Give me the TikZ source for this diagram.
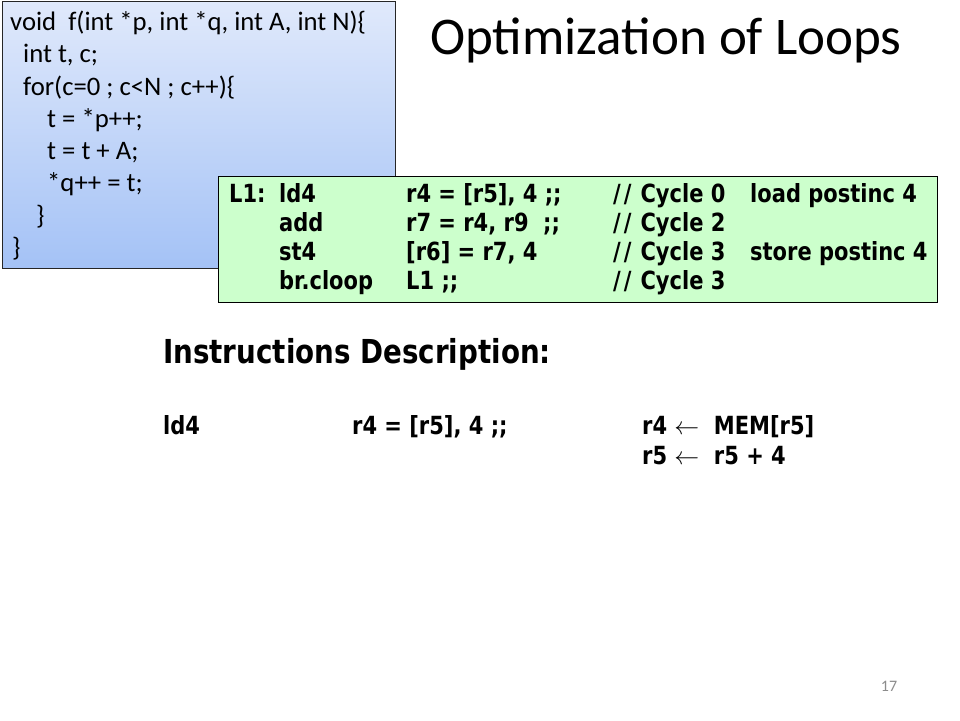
\documentclass[tikz,border=0pt]{standalone}
\usepackage{fontspec}
\setmainfont{Carlito}
\newfontfamily\tahoma[FakeStretch=0.84]{DejaVu Sans}
\definecolor{bluetop}{RGB}{224,233,251}
\definecolor{bluebot}{RGB}{164,194,246}
\definecolor{greenfill}{RGB}{204,255,204}
\definecolor{pagegray}{RGB}{140,140,140}
\newcommand{\slsl}{/\kern3pt/\hspace{9pt}}
\tikzset{
  codetxt/.style={anchor=base west, inner sep=0pt, font=\fontsize{26.7}{32}\selectfont},
  asmtxt/.style={anchor=base west, inner sep=0pt, font=\tahoma\bfseries\fontsize{25}{29}\selectfont},
  desctxt/.style={anchor=base west, inner sep=0pt, font=\tahoma\bfseries\fontsize{25}{29}\selectfont},
  headtxt/.style={anchor=base west, inner sep=0pt, font=\tahoma\bfseries\fontsize{33}{39}\selectfont},
}
\begin{document}
\begin{tikzpicture}[x=1pt,y=-1pt]
\useasboundingbox (0,0) rectangle (960,720);
\fill[white] (0,0) rectangle (960,720);
% code box
\node[draw=black!85, line width=0.9pt, top color=bluetop, bottom color=bluebot,
      minimum width=393pt, minimum height=267pt, anchor=north west, inner sep=0pt] (codebox) at (2,1) {};
\node[codetxt] (c1) at (10,30) {void\ \ f(int *p, int *q, int A, int N)\{};
\node[codetxt] (c2) at (23,62) {int t, c;};
\node[codetxt] (c3) at (23,95) {for(c=0 ; c<N ; c++)\{};
\node[codetxt] (c4) at (47,127) {t = *p++;};
\node[codetxt] (c5) at (47,159) {t = t + A;};
\node[codetxt] (c6) at (47,191) {*q++ = t;};
\node[codetxt] (c7) at (36,224) {\}};
\node[codetxt] (c8) at (12,256) {\}};
% title
\node[anchor=base west, inner sep=0pt, font=\fontsize{53}{62}\selectfont] (title) at (430,54) {Optimization of Loops};
% assembly box
\node[draw=black, line width=1.2pt, fill=greenfill, minimum width=719pt, minimum height=126pt,
      anchor=north west, inner sep=0pt] (asmbox) at (218,176) {};
\node[asmtxt] (lab) at (229,202) {L1:};
\node[asmtxt] (m1) at (279,202) {ld4};
\node[asmtxt] (m2) at (279,231) {add};
\node[asmtxt] (m3) at (279,260) {st4};
\node[asmtxt] (m4) at (279,289) {br.cloop};
\node[asmtxt] (o1) at (406,202) {r4 = [r5], 4 ;;};
\node[asmtxt] (o2) at (406,231) {r7 = r4, r9\ \ ;;};
\node[asmtxt] (o3) at (406,260) {[r6] = r7, 4};
\node[asmtxt] (o4) at (406,289) {L1 ;;};
\node[asmtxt] (k1) at (613,202) {\slsl Cycle 0};
\node[asmtxt] (k2) at (613,231) {\slsl Cycle 2};
\node[asmtxt] (k3) at (613,260) {\slsl Cycle 3};
\node[asmtxt] (k4) at (613,289) {\slsl Cycle 3};
\node[asmtxt] (n1) at (750,202) {load postinc 4};
\node[asmtxt] (n3) at (750,260) {store postinc 4};
% description
\node[headtxt] (head) at (163,363) {Instructions Description:};
\node[desctxt] (d1) at (163,434) {ld4};
\node[desctxt] (d2) at (352,434) {r4 = [r5], 4 ;;};
\node[desctxt] (d3) at (642,434) {r4 $\leftarrow$\ \ MEM[r5]};
\node[desctxt] (d4) at (642,464) {r5 $\leftarrow$\ \ r5 + 4};
% page number
\node[inner sep=0pt, text=pagegray, font=\fontsize{16}{19}\selectfont] (pg) at (889,686) {17};
\end{tikzpicture}
\end{document}
